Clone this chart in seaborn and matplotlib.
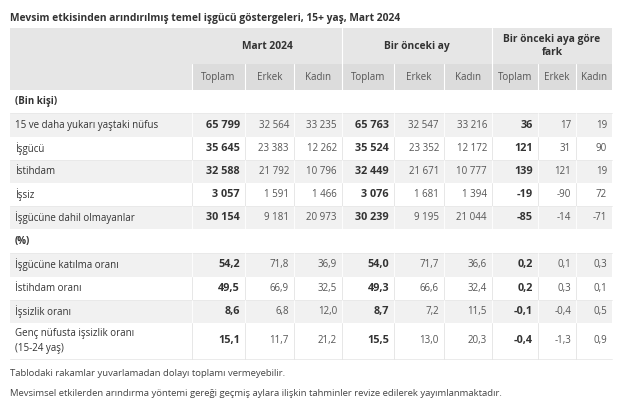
import matplotlib
matplotlib.use("Agg")
import matplotlib.pyplot as plt
from matplotlib.patches import Rectangle
import seaborn as sns

sns.set_theme(style="white")
plt.rcParams["font.family"] = "Open Sans"

title = "Mevsim etkisinden arındırılmış temel işgücü göstergeleri, 15+ yaş, Mart 2024"
groups = ["Mart 2024", "Bir önceki ay", "Bir önceki aya göre\nfark"]
subcols = ["Toplam", "Erkek", "Kadın"] * 3
row_labels = ["(Bin kişi)", "15 ve daha yukarı yaştaki nüfus", "İşgücü", "İstihdam", "İşsiz",
              "İşgücüne dahil olmayanlar", "(%)", "İşgücüne katılma oranı", "İstihdam oranı",
              "İşsizlik oranı", "Genç nüfusta işsizlik oranı\n(15-24 yaş)"]
values = [
    None,
    ["65 799", "32 564", "33 235", "65 763", "32 547", "33 216", "36", "17", "19"],
    ["35 645", "23 383", "12 262", "35 524", "23 352", "12 172", "121", "31", "90"],
    ["32 588", "21 792", "10 796", "32 449", "21 671", "10 777", "139", "121", "19"],
    ["3 057", "1 591", "1 466", "3 076", "1 681", "1 394", "-19", "-90", "72"],
    ["30 154", "9 181", "20 973", "30 239", "9 195", "21 044", "-85", "-14", "-71"],
    None,
    ["54,2", "71,8", "36,9", "54,0", "71,7", "36,6", "0,2", "0,1", "0,3"],
    ["49,5", "66,9", "32,5", "49,3", "66,6", "32,4", "0,2", "0,3", "0,1"],
    ["8,6", "6,8", "12,0", "8,7", "7,2", "11,5", "-0,1", "-0,4", "0,5"],
    ["15,1", "11,7", "21,2", "15,5", "13,0", "20,3", "-0,4", "-1,3", "0,9"],
]
notes = ["Tablodaki rakamlar yuvarlamadan dolayı toplamı vermeyebilir.",
         "Mevsimsel etkilerden arındırma yöntemi gereği geçmiş aylara ilişkin tahminler revize edilerek yayımlanmaktadır."]

fig = plt.figure(figsize=(6.18, 4.12), dpi=100)
ax = fig.add_axes([0, 0, 1, 1])
ax.set_xlim(0, 618); ax.set_ylim(412, 0); ax.axis("off")

xb = [10, 192, 245, 294, 342, 394, 444, 492, 538, 576, 612]
hdr_bg = "#e6e6e6"; row_bg = "#f1f1f1"; txt = "#333333"; fs = 7.0

ax.text(10, 18, title, fontsize=7.4, fontweight="bold", color=txt, va="center")
ax.add_patch(Rectangle((xb[0], 28), xb[-1] - xb[0], 62, color=hdr_bg, lw=0))
for i, g in enumerate(groups):
    x0, x1 = xb[1 + 3 * i], xb[4 + 3 * i]
    ax.text((x0 + x1) / 2, 46, g, fontsize=7.4, fontweight="bold", color=txt, ha="center", va="center")
    if i > 0:
        ax.plot([x0, x0], [28, 90], color="white", lw=0.8)
ax.add_patch(Rectangle((xb[1], 64), xb[-1] - xb[1], 26, color="#dcdcdc", lw=0))
for j, s in enumerate(subcols):
    ax.text((xb[1 + j] + xb[2 + j]) / 2, 77, s, fontsize=fs, color="#555555", ha="center", va="center")
    ax.plot([xb[1 + j], xb[1 + j]], [64, 90], color="white", lw=0.8)

y = 90
heights = [23, 24, 23, 23, 23, 23, 24, 24, 23, 23, 36]
for r, (lab, vals) in enumerate(zip(row_labels, values)):
    h = heights[r]
    gray = r in (1, 3, 5, 7, 9)
    if gray:
        ax.add_patch(Rectangle((xb[0], y), xb[-1] - xb[0], h, color=row_bg, lw=0))
    lc = "white" if gray else "#e3e3e3"
    ax.plot([xb[0], xb[-1]], [y + h, y + h], color="#e8e8e8" if not gray else "white", lw=0.6)
    ax.text(xb[0] + 5, y + h / 2, lab, fontsize=fs, color=txt, va="center",
            fontweight="bold" if vals is None else "normal", linespacing=1.6)
    if vals is not None:
        for j, v in enumerate(vals):
            ax.plot([xb[1 + j], xb[1 + j]], [y, y + h], color=lc, lw=0.6)
            bold = j % 3 == 0
            ax.text(xb[2 + j] - 5, y + h / 2, v, fontsize=7.8 if bold else fs,
                    color=txt if bold else "#555555",
                    ha="right", va="center", fontweight="bold" if bold else "normal")
    y += h

ax.text(10, 373, notes[0], fontsize=6.8, color="#444444", va="center")
ax.text(10, 393, notes[1], fontsize=6.8, color="#444444", va="center")

fig.savefig("out.png", dpi=100, facecolor="white")
